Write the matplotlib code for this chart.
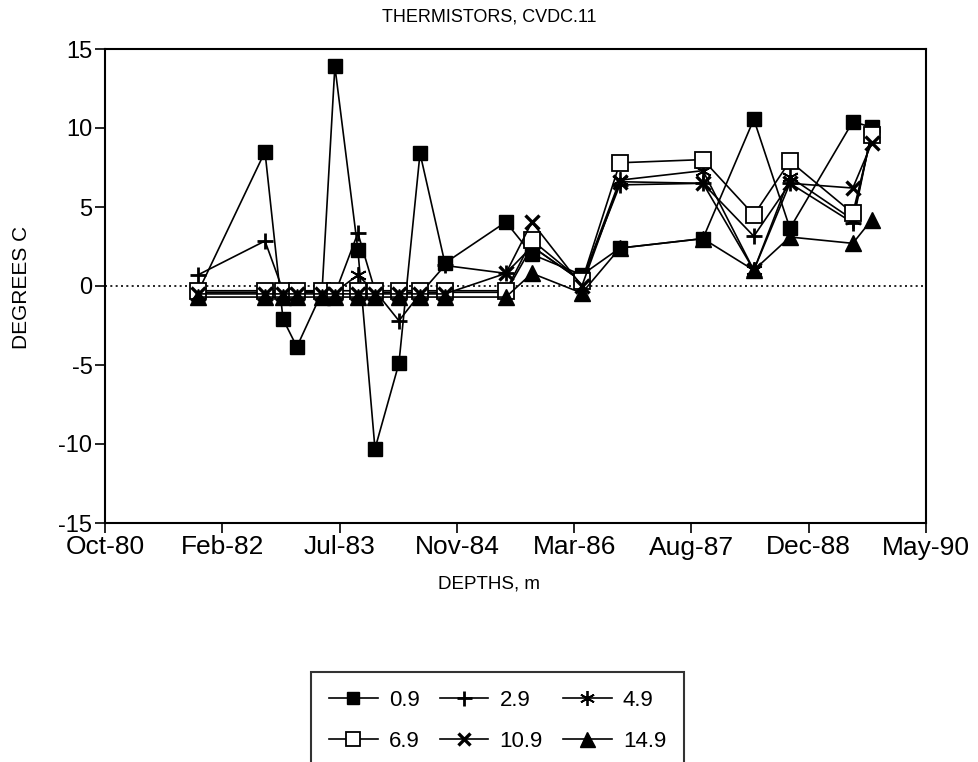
import matplotlib
matplotlib.use("Agg")
import matplotlib.pyplot as plt
import matplotlib.dates as mdates
import numpy as np
import datetime as dt

# ---- data ----
dates = ["1981-11-06", "1982-08-19", "1982-11-04", "1983-01-02", "1983-04-19",
         "1983-06-13", "1983-09-19", "1983-12-01", "1984-03-12", "1984-06-10",
         "1984-09-24", "1985-06-11", "1985-09-30", "1986-05-01", "1986-10-10",
         "1987-09-29", "1988-05-03", "1988-10-04", "1989-06-29", "1989-09-18"]

d09 = [-0.4, 8.5, -2.1, -3.85, -0.4, 13.9, 2.3, -10.3, -4.9, 8.4,
       1.45, 4.05, 2.0, 0.7, 2.4, 3.0, 10.55, 3.65, 10.4, 10.05]
d29 = [0.7, 2.85, -0.3, -0.4, -0.3, -0.5, 3.35, -0.3, -2.2, -0.5,
       1.3, 0.8, 2.5, 0.3, 6.4, 6.5, 3.15, 6.5, 4.0, 9.8]
d49 = [-0.4, -0.4, -0.4, -0.4, -0.4, -0.4, 0.7, -0.4, -0.4, -0.4,
       -0.4, -0.4, 2.5, 0.3, 6.7, 7.3, 1.0, 6.9, 4.2, 9.8]
d69 = [-0.3, -0.3, -0.3, -0.3, -0.3, -0.3, -0.3, -0.3, -0.3, -0.3,
       -0.3, -0.3, 2.9, 0.3, 7.8, 8.0, 4.5, 7.9, 4.6, 9.55]
d109 = [-0.5, -0.5, -0.5, -0.5, -0.5, -0.5, -0.5, -0.5, -0.5, -0.5,
        -0.5, 0.8, 4.05, 0.0, 6.6, 6.5, 1.0, 6.5, 6.2, 9.05]
d149 = [-0.7, -0.7, -0.7, -0.7, -0.7, -0.7, -0.7, -0.7, -0.7, -0.7,
        -0.7, -0.7, 0.8, -0.45, 2.4, 3.0, 1.0, 3.1, 2.7, 4.2]

series_labels = ["0.9", "2.9", "4.9", "6.9", "10.9", "14.9"]
title = "THERMISTORS, CVDC.11"
xlabel = "DEPTHS, m"
ylabel = "DEGREES C"

# ---- plot ----
plt.rcParams['font.family'] = ['Liberation Sans', 'DejaVu Sans']
plt.rcParams['axes.unicode_minus'] = False
fig = plt.figure(figsize=(9.79, 7.62), dpi=100)
ax = fig.add_axes([105/979, 1 - 523/762, (926 - 105)/979, (523 - 49)/762])

x = [dt.datetime.strptime(s, "%Y-%m-%d") for s in dates]

styles = [
    dict(marker='s', mfc='black', ms=10),
    dict(marker='+', mfc='black', ms=12, mew=2),
    dict(marker=(6, 2, 0), mfc='black', ms=12, mew=1.3),
    dict(marker='s', mfc='white', ms=11, mew=1.3),
    dict(marker='x', mfc='black', ms=10, mew=2.4),
    dict(marker='^', mfc='black', ms=12),
]
handles = []
for vals, lab, st in zip([d09, d29, d49, d69, d109, d149], series_labels, styles):
    h, = ax.plot(x, vals, color='black', lw=1.2, mec='black', label=lab, **st)
    handles.append(h)

ax.axhline(0, color='black', lw=1.2, ls=(0, (1.2, 2.0)), zorder=0)

start = dt.datetime(1980, 10, 6)
ticks = [start + dt.timedelta(days=500 * i) for i in range(8)]
ax.set_xlim(ticks[0], ticks[-1])
ax.set_xticks(ticks)
ax.xaxis.set_major_formatter(mdates.DateFormatter('%b-%y'))
ax.set_ylim(-15, 15)
ax.set_yticks(np.arange(-15, 16, 5))

ax.tick_params(axis='both', direction='out', length=7, width=1.2, pad=2)
ax.tick_params(axis='x', labelsize=19, pad=2)
ax.tick_params(axis='y', labelsize=17)
for sp in ax.spines.values():
    sp.set_linewidth(1.5)

fig.text(0.5, 1 - 17/762, title, ha='center', va='center', fontsize=13)
fig.text(0.5, 1 - 584/762, xlabel, ha='center', va='center', fontsize=13.5)
fig.text(22/979, 1 - 287/762, ylabel, ha='center', va='center', rotation=90, fontsize=15)

order = [0, 3, 1, 4, 2, 5]
leg = fig.legend([handles[i] for i in order], [series_labels[i] for i in order],
                 ncol=3, loc='upper left', bbox_to_anchor=(311/979, 1 - 672/762),
                 borderaxespad=0, frameon=True, fancybox=False, edgecolor='black',
                 fontsize=16, handlelength=2.2, handletextpad=0.5, columnspacing=0.9,
                 borderpad=0.8, labelspacing=0.9, markerscale=0.9)
leg.get_frame().set_linewidth(1.5)

fig.savefig("out.png", dpi=100)
